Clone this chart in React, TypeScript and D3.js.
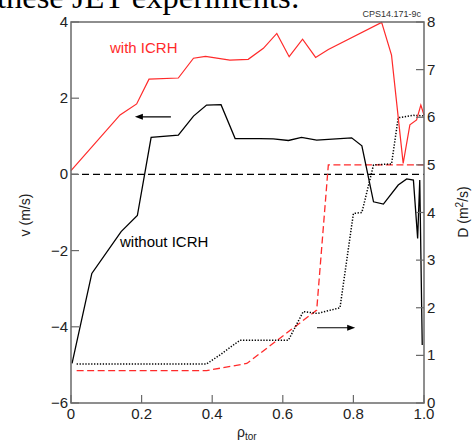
import React from "react";
import * as d3 from "d3";

// v (m/s), with ICRH (red solid)
const vWithX = [0.0, 0.139, 0.186, 0.221, 0.304, 0.347, 0.381, 0.45, 0.502, 0.545, 0.583, 0.618, 0.656, 0.693, 0.729, 0.88, 0.908, 0.941, 0.96, 0.979, 0.991, 1.0];
const vWithY = [0.1, 1.56, 1.85, 2.5, 2.53, 3.05, 3.1, 3.0, 3.02, 3.31, 3.7, 3.09, 3.55, 3.07, 3.28, 3.99, 3.13, 0.29, 1.3, 1.43, 1.82, 1.56];

// v (m/s), without ICRH (black solid)
const vWithoutX = [0.003, 0.059, 0.142, 0.188, 0.227, 0.304, 0.347, 0.384, 0.425, 0.465, 0.535, 0.573, 0.616, 0.653, 0.696, 0.795, 0.824, 0.857, 0.885, 0.927, 0.951, 0.97, 0.982, 0.988, 0.995];
const vWithoutY = [-4.96, -2.6, -1.5, -1.08, 0.97, 1.03, 1.53, 1.82, 1.83, 0.94, 0.94, 0.93, 0.89, 0.97, 0.9, 0.96, 0.75, -0.72, -0.78, -0.28, -0.12, -0.15, -1.68, -0.15, -4.48];

// D (m^2/s), without ICRH (black dotted)
const dWithoutX = [0.016, 0.384, 0.422, 0.479, 0.535, 0.616, 0.658, 0.698, 0.762, 0.8, 0.824, 0.857, 0.908, 0.927, 0.97, 0.998];
const dWithoutY = [0.82, 0.82, 1.01, 1.32, 1.32, 1.32, 1.92, 1.88, 2.0, 3.98, 4.0, 5.0, 5.02, 5.99, 6.04, 6.03];

// D (m^2/s), with ICRH (red dashed)
const dWithX = [0.016, 0.384, 0.498, 0.696, 0.729, 1.0];
const dWithY = [0.68, 0.68, 0.83, 1.95, 5.0, 5.0];

const xTicks = [0, 0.2, 0.4, 0.6, 0.8, 1.0];
const xTickLabels = ["0", "0.2", "0.4", "0.6", "0.8", "1.0"];
const vTicks = [-6, -4, -2, 0, 2, 4];
const vTickLabels = ["\u22126", "\u22124", "\u22122", "0", "2", "4"];
const dTicks = [0, 1, 2, 3, 4, 5, 6, 7, 8];

const W = 472;
const H = 441;
const L = 71, R = 424, T = 22, B = 403;
const FONT = "'Liberation Sans', Arial, Helvetica, sans-serif";
const AX = "#6a6a6a";

export default function App() {
  const x = d3.scaleLinear().domain([0, 1]).range([L, R]);
  const yv = d3.scaleLinear().domain([-6, 4]).range([B, T]);
  const yd = d3.scaleLinear().domain([0, 8]).range([B, T]);

  const lineV = (xs: number[], ys: number[]) =>
    d3.line<number>().x((_, i) => x(xs[i])).y((d) => yv(d))(ys) || "";
  const lineD = (xs: number[], ys: number[]) =>
    d3.line<number>().x((_, i) => x(xs[i])).y((d) => yd(d))(ys) || "";

  const arrow = (x1: number, x2: number, y: number) => {
    const dir = Math.sign(x2 - x1);
    return (
      <g>
        <line x1={x1} x2={x2 - dir * 4} y1={y} y2={y} stroke="#000" strokeWidth={1.1} />
        <path d={`M${x2},${y} L${x2 - dir * 8},${y - 3} L${x2 - dir * 8},${y + 3} Z`} fill="#000" />
      </g>
    );
  };

  return (
    <svg width={W} height={H} style={{ position: "absolute", left: 0, top: 0 }}>
      <rect width={W} height={H} fill="#fff" />
      <text x={-3} y={8} fontFamily="'Liberation Serif', 'Times New Roman', serif" fontSize={32.5} fill="#000">
        these JET experiments:
      </text>

      {/* zero line */}
      <line x1={L} x2={R} y1={yv(0)} y2={yv(0)} stroke="#000" strokeWidth={1.1} strokeDasharray="7,4" />

      {/* D curves */}
      <path d={lineD(dWithX, dWithY)} fill="none" stroke="#ff2a2a" strokeWidth={1.3} strokeDasharray="7,3.5" />
      <path d={lineD(dWithoutX, dWithoutY)} fill="none" stroke="#000" strokeWidth={1.5} strokeDasharray="1.3,1.6" />

      {/* v curves */}
      <path d={lineV(vWithX, vWithY)} fill="none" stroke="#ff2a2a" strokeWidth={1.2} />
      <path d={lineV(vWithoutX, vWithoutY)} fill="none" stroke="#000" strokeWidth={1.3} />

      {/* frame */}
      <rect x={L} y={T} width={R - L} height={B - T} fill="none" stroke={AX} strokeWidth={1.5} />

      {/* x ticks */}
      {xTicks.map((t, i) => (
        <g key={"x" + i}>
          <line x1={x(t)} x2={x(t)} y1={B} y2={B - 8} stroke={AX} strokeWidth={1.2} />
          <text x={x(t)} y={419} textAnchor="middle" fontFamily={FONT} fontSize={15} fill="#222">
            {xTickLabels[i]}
          </text>
        </g>
      ))}
      {/* left ticks */}
      {vTicks.map((t, i) => (
        <g key={"v" + i}>
          <line x1={L} x2={L + 8} y1={yv(t)} y2={yv(t)} stroke={AX} strokeWidth={1.2} />
          <text x={68} y={yv(t) + 5} textAnchor="end" fontFamily={FONT} fontSize={15} fill="#222">
            {vTickLabels[i]}
          </text>
        </g>
      ))}
      {/* right ticks */}
      {dTicks.map((t, i) => (
        <g key={"d" + i}>
          <line x1={R - 8} x2={R} y1={yd(t)} y2={yd(t)} stroke={AX} strokeWidth={1.2} />
          <text x={427} y={yd(t) + 5} textAnchor="start" fontFamily={FONT} fontSize={15} fill="#222">
            {String(t)}
          </text>
        </g>
      ))}

      {/* axis titles */}
      <text transform="translate(30,215) rotate(-90)" textAnchor="middle" fontFamily={FONT} fontSize={14} fill="#222">
        v (m/s)
      </text>
      <text transform="translate(468,212) rotate(-90)" textAnchor="middle" fontFamily={FONT} fontSize={14} fill="#222">
        D (m<tspan dy={-5} fontSize={10}>2</tspan><tspan dy={5}>/s)</tspan>
      </text>
      <text x={237} y={437} fontFamily={FONT} fontSize={14} fill="#222">
        ρ<tspan dy={3} fontSize={10}>tor</tspan>
      </text>

      <text x={421} y={17} textAnchor="end" fontFamily={FONT} fontSize={9} fill="#333">
        CPS14.171-9c
      </text>

      {/* labels */}
      <text x={110} y={53} fontFamily={FONT} fontSize={15} fill="#ff2a2a">with ICRH</text>
      <text x={120} y={247} fontFamily={FONT} fontSize={15} fill="#000">without ICRH</text>

      {arrow(x(0.283), x(0.181), yv(1.51))}
      {arrow(x(0.697), x(0.805), yd(1.58))}
    </svg>
  );
}
